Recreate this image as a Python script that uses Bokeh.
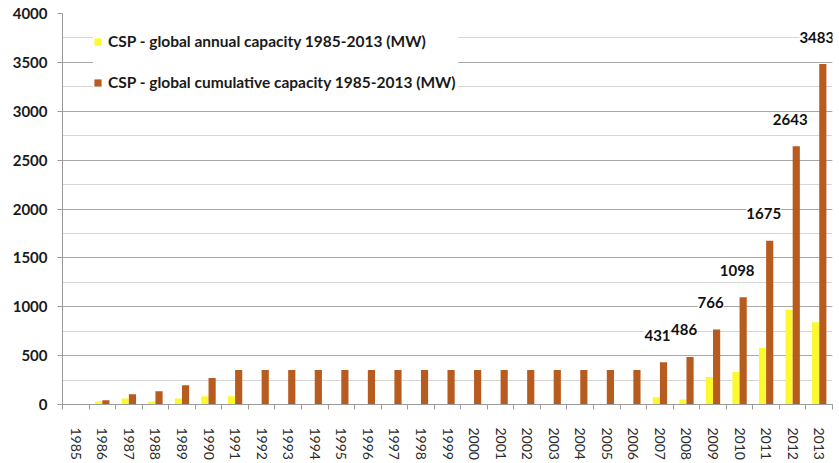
from bokeh.plotting import figure
from bokeh.models import (ColumnDataSource, Range1d, FixedTicker, SingleIntervalTicker,
                          LabelSet, Legend, LegendItem)
from bokeh.core.properties import value
from bokeh.transform import dodge
from bokeh.embed import file_html
from bokeh.resources import INLINE

# ---- data ----
years = list(range(1985, 2014))
annual = [0, 30, 61, 30, 61, 85, 85, 0, 0, 0, 0, 0, 0, 0, 0, 0, 0, 0, 0, 0, 0, 0,
          75, 51, 282, 333, 579, 968, 842]
cumulative = [0, 44, 105, 135, 197, 272, 354, 354, 354, 354, 354, 354, 354, 354, 354,
              354, 354, 354, 354, 354, 354, 354, 431, 486, 766, 1098, 1675, 2643, 3483]
label_from_year = 2007
y_ticks_interval = 500
y_max = 4000

series_names = ["CSP - global annual capacity 1985-2013 (MW)",
                "CSP - global cumulative capacity 1985-2013 (MW)"]

YELLOW = "#FAFA2E"
BROWN = "#B85B1F"
FONT = "Lato"

src = ColumnDataSource(dict(year=years, annual=annual, cumulative=cumulative))
lab_idx = [i for i, y in enumerate(years) if y >= label_from_year]
lab_src = ColumnDataSource(dict(year=[years[i] for i in lab_idx],
                                cumulative=[cumulative[i] for i in lab_idx],
                                text=[str(cumulative[i]) for i in lab_idx]))

p = figure(width=839, height=463, output_backend="svg", toolbar_location=None,
           x_range=Range1d(years[0] - 0.5, years[-1] + 0.5),
           y_range=Range1d(0, y_max),
           min_border_left=62, min_border_right=7, min_border_top=13, min_border_bottom=59)
p.outline_line_color = None
p.background_fill_color = "white"

bw = 0.27
r1 = p.vbar(x=dodge("year", -bw / 2, range=p.x_range), top="annual", width=bw,
            source=src, fill_color=YELLOW, line_color=None)
r2 = p.vbar(x=dodge("year", bw / 2, range=p.x_range), top="cumulative", width=bw,
            source=src, fill_color=BROWN, line_color=None)

# x axis
xa = p.xaxis[0]
xa.ticker = FixedTicker(ticks=years, minor_ticks=[y - 0.5 for y in years] + [years[-1] + 0.5])
xa.major_tick_line_color = None
xa.major_tick_out = 0
xa.major_tick_in = 0
xa.minor_tick_out = 5
xa.minor_tick_in = 0
xa.minor_tick_line_color = "#9a9a9a"
xa.axis_line_color = "#9a9a9a"
xa.major_label_orientation = "vertical"
xa.major_label_text_font = FONT
xa.major_label_text_font_size = "14px"
xa.major_label_text_color = "#2a2a2a"
xa.major_label_standoff = 18

# y axis
ya = p.yaxis[0]
ya.ticker = SingleIntervalTicker(interval=y_ticks_interval, num_minor_ticks=2)
ya.major_tick_out = 5
ya.major_tick_in = 0
ya.major_tick_line_color = "#9a9a9a"
ya.minor_tick_line_color = None
ya.axis_line_color = "#9a9a9a"
ya.major_label_text_font = FONT
ya.major_label_text_font_style = "bold"
ya.major_label_text_font_size = "15px"
ya.major_label_text_color = "#1a1a1a"
ya.major_label_standoff = 10

p.xgrid.grid_line_color = None
p.ygrid.grid_line_color = "#a8a8a8"
p.ygrid.minor_grid_line_color = "#d6d6d6"

labels = LabelSet(x=dodge("year", bw / 2, range=p.x_range), y="cumulative", text="text",
                  source=lab_src, x_offset=-6, y_offset=27,
                  text_align="center", text_baseline="middle",
                  text_font=value(FONT), text_font_style="bold", text_font_size="15px",
                  text_color="#111111",
                  background_fill_color="white", background_fill_alpha=1.0)
p.add_layout(labels)

legend = Legend(items=[LegendItem(label=series_names[0], renderers=[r1]),
                       LegendItem(label=series_names[1], renderers=[r2])],
                location=(31, 312), margin=0, padding=12,
                glyph_width=9, glyph_height=9, label_standoff=6,
                label_height=20, label_width=350, spacing=21,
                label_text_font=FONT, label_text_font_style="bold",
                label_text_font_size="15.5px", label_text_color="#1a1a1a",
                background_fill_color="white", background_fill_alpha=1.0,
                border_line_color=None)
p.add_layout(legend)

open("out.html", "w").write(file_html(p, INLINE))
